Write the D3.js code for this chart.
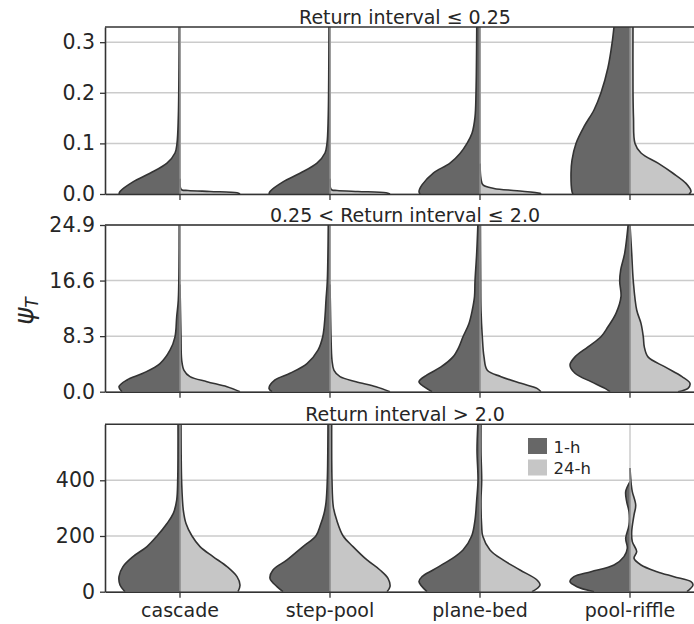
<!DOCTYPE html>
<html>
<head>
<meta charset="utf-8">
<script src="https://cdnjs.cloudflare.com/ajax/libs/d3/7.8.5/d3.min.js"></script>
<style>
  body { margin: 0; background: #fff; }
  svg text { font-family: "DejaVu Sans", sans-serif; fill: #262626; }
</style>
</head>
<body>
<div class="graph"></div>
<script>

// categories on the x-axis and the two series (left half / right half of each violin)
var categories = ["cascade", "step-pool", "plane-bed", "pool-riffle"];
var seriesNames = ["1-h", "24-h"];
var seriesColors = ["#676767", "#c6c6c6"];

// one panel per return-interval class
var panelTitles = ["Return interval \u2264 0.25", "0.25 < Return interval \u2264 2.0", "Return interval > 2.0"];
var panelMax = [0.33, 24.9, 601];
var panelTicks = [[0, 0.1, 0.2, 0.3], [0, 8.3, 16.6, 24.9], [0, 200, 400]];
var panelTickFormat = [".1f", ".1f", "d"];

// density profiles: [psi_T value, relative half width]
// one list per category, in the order of categories[]
var rare1h = [
  [[0, 61], [0.005, 60], [0.024, 47], [0.041, 30], [0.061, 13], [0.081, 5], [0.1, 3], [0.15, 1.7], [0.25, 1], [0.34, 0.8]],
  [[0, 61], [0.005, 60], [0.024, 47], [0.041, 30], [0.061, 13], [0.081, 5], [0.1, 3], [0.15, 1.8], [0.25, 1.2], [0.34, 1]],
  [[0, 60], [0.005, 61], [0.018, 58], [0.041, 47], [0.061, 30], [0.08, 20], [0.1, 13], [0.12, 8], [0.152, 5], [0.2, 4], [0.34, 3.2]],
  [[0, 57], [0.005, 58], [0.041, 59], [0.067, 58], [0.1, 54], [0.133, 46], [0.166, 36], [0.2, 29], [0.25, 22], [0.297, 18], [0.34, 15.5]]
];
var rare24h = [
  [[0, 60], [0.0026, 57], [0.005, 30], [0.007, 8], [0.008, 2], [0.012, 0.5], [0.03, 0]],
  [[0, 60], [0.0026, 56], [0.005, 28], [0.007, 7], [0.008, 2], [0.012, 0.5], [0.03, 0]],
  [[0, 61], [0.0013, 60], [0.0065, 37], [0.011, 14], [0.018, 3], [0.03, 1], [0.06, 0]],
  [[0, 59], [0.005, 61], [0.021, 56], [0.041, 43], [0.061, 28], [0.081, 11], [0.1, 5], [0.15, 3.5], [0.2, 3], [0.34, 3]]
];

var moderate1h = [
  [[0, 58], [0.75, 61], [1.75, 53], [2.75, 37], [4.2, 20], [6.2, 10], [8.2, 5], [11.2, 3.3], [13.7, 1.7], [18.7, 1], [25.5, 0.8]],
  [[0, 58], [0.5, 61], [1.75, 55], [2.75, 40], [4.2, 23], [6.2, 12], [8.2, 7.3], [11.2, 5], [13.7, 4], [16.5, 2.7], [25.5, 1.7]],
  [[0, 48], [0.75, 56], [1.5, 61], [2.5, 53], [3.7, 39], [5.2, 27], [6.7, 21], [8.2, 17], [10.2, 11], [12.2, 7.7], [14.2, 5.5], [16.5, 5], [20.7, 3.3], [25.5, 2]],
  [[0, 20], [0.5, 25], [1.5, 39], [2.75, 55], [4.0, 60], [5.2, 55], [6.7, 42], [8.2, 29], [9.7, 22], [11.7, 14], [14.2, 9], [16.5, 10.3], [18.2, 9.3], [20.7, 5.3], [25.5, 1.5]]
];
var moderate24h = [
  [[0, 60], [0.75, 47], [1.5, 27], [2.25, 10], [3.2, 4], [4.7, 1.7], [8.3, 1], [12, 0.5], [16, 0]],
  [[0, 60], [0.75, 46], [1.5, 26], [2.25, 10], [3.2, 4], [4.7, 2], [8.3, 1], [12, 0.5], [16, 0]],
  [[0, 61], [0.5, 57], [1.25, 41], [2.25, 21], [3.2, 7.3], [5.2, 4], [8.2, 2.3], [12.2, 1], [16.5, 0.7], [25.5, 0.4]],
  [[0, 48], [0.5, 58], [1.25, 60], [2.25, 52], [3.7, 35], [5.2, 18], [6.7, 14.3], [8.2, 13.3], [10.2, 11], [12.2, 6.7], [16.5, 3.3], [20.7, 1.7], [24.9, 0]]
];

var extreme1h = [
  [[0, 55], [24, 60], [54, 61], [90, 57], [126, 47], [162, 33], [200, 23], [245, 13], [281, 6.7], [329, 3.3], [400, 2.3], [610, 2]],
  [[0, 47], [18, 53], [48, 60], [78, 57], [114, 43], [162, 27], [201, 14], [240, 9.5], [280, 6], [320, 4], [400, 2.7], [610, 2]],
  [[0, 53], [36, 61], [54, 58], [78, 47], [114, 30], [150, 17], [200, 8.3], [257, 5], [329, 3.3], [400, 2], [509, 3], [610, 2]],
  [[0, 36], [18, 53], [36, 60], [54, 56], [72, 39], [96, 16], [126, 6], [156, 2.7], [192, 4.3], [239, 1], [287, 1], [323, 3.3], [359, 4.3], [395, 0]]
];
var extreme24h = [
  [[0, 58], [24, 60], [54, 57], [90, 47], [126, 33], [162, 20], [200, 12], [245, 6], [293, 3.3], [388, 1.7], [610, 1]],
  [[0, 57], [18, 60], [48, 58], [78, 50], [114, 37], [162, 23], [201, 13], [257, 6.7], [305, 3.3], [400, 2], [610, 1.7]],
  [[0, 52], [24, 60], [42, 57], [78, 40], [114, 23], [150, 10], [200, 2.7], [233, 1.7], [329, 1], [400, 1.7], [500, 1], [610, 1]],
  [[0, 57], [24, 63], [36, 61], [54, 44], [72, 27], [96, 11], [120, 4], [144, 6.7], [180, 2.3], [215, 1.7], [275, 4], [311, 5.7], [359, 2.3], [383, 1.3], [443, 0]]
];

var panelHalves = [[rare1h, rare24h], [moderate1h, moderate24h], [extreme1h, extreme24h]];

// screen is 694 x 624, the plot area runs a little past the right edge (as in the original)
var width = 694, height = 624;
var plotLeft = 105, plotRight = 705;
var panelBox = [
  {top: 27, bottom: 194},
  {top: 225, bottom: 391.7},
  {top: 424.3, bottom: 591.7}
];

var svg = d3.select(".graph").append("svg")
    .attr("width", width)
    .attr("height", height);

svg.append("rect").attr("width", width).attr("height", height).attr("fill", "#fff");
var defs = svg.append("defs");

// x is a band scale, one band per category, violins sit on the band centre
var x = d3.scaleBand().domain(categories).range([plotLeft, plotRight]).padding(0);
var halfWidth = d3.scaleLinear().domain([0, 75]).range([0, x.bandwidth() / 2]);
var curve = d3.curveCatmullRom.alpha(0.5);

function centre(c) { return x(c) + x.bandwidth() / 2; }

function drawPanel(i) {
    var box = panelBox[i];
    var y = d3.scaleLinear().domain([0, panelMax[i]]).range([box.bottom, box.top]);
    var g = svg.append("g");

    defs.append("clipPath").attr("id", "clip" + i)
      .append("rect")
        .attr("x", plotLeft).attr("y", box.top)
        .attr("width", plotRight - plotLeft).attr("height", box.bottom - box.top);

    // grid lines (horizontal at y ticks, vertical at category centres)
    g.selectAll(".hgrid").data(panelTicks[i]).enter().append("line")
        .attr("x1", plotLeft).attr("x2", plotRight)
        .attr("y1", function(d) { return y(d); }).attr("y2", function(d) { return y(d); })
        .attr("stroke", "#cbcbcb").attr("stroke-width", 1.5);
    g.selectAll(".vgrid").data(categories).enter().append("line")
        .attr("x1", centre).attr("x2", centre)
        .attr("y1", box.top).attr("y2", box.bottom)
        .attr("stroke", "#cbcbcb").attr("stroke-width", 1.5);

    var violins = g.append("g").attr("clip-path", "url(#clip" + i + ")");

    // each half violin: filled area + dark outline on its outer side
    panelHalves[i].forEach(function(profiles, s) {
        var side = s === 0 ? -1 : 1;
        profiles.forEach(function(pts, ci) {
            var cx = centre(categories[ci]);
            var area = d3.area().curve(curve)
                .y(function(d) { return y(d[0]); })
                .x0(cx)
                .x1(function(d) { return cx + side * halfWidth(d[1]); });
            var line = d3.line().curve(curve)
                .y(function(d) { return y(d[0]); })
                .x(function(d) { return cx + side * halfWidth(d[1]); });
            violins.append("path").attr("d", area(pts))
                .attr("fill", seriesColors[s]);
            violins.append("path").attr("d", line(pts))
                .attr("fill", "none").attr("stroke", "#333").attr("stroke-width", 1.6)
                .attr("stroke-linejoin", "round");
        });
    });

    // split line in the middle of each violin
    categories.forEach(function(c, ci) {
        var top = d3.max(panelHalves[i], function(profiles) {
            var pts = profiles[ci];
            return pts[pts.length - 1][0];
        });
        violins.append("line")
            .attr("x1", centre(c)).attr("x2", centre(c))
            .attr("y1", y(0)).attr("y2", y(top))
            .attr("stroke", "#8e8e8e").attr("stroke-width", 1.6);
    });

    // axes
    var yAxis = d3.axisLeft(y).tickValues(panelTicks[i])
        .tickFormat(d3.format(panelTickFormat[i]))
        .tickSize(5).tickSizeOuter(0).tickPadding(5);
    var gy = g.append("g").attr("transform", "translate(" + plotLeft + ",0)").call(yAxis);

    var xAxis = d3.axisBottom(x).tickSize(6).tickSizeOuter(0).tickPadding(6);
    if (i < 2) xAxis.tickFormat("");
    var gx = g.append("g").attr("transform", "translate(0," + box.bottom + ")").call(xAxis);

    g.append("line")
        .attr("x1", plotLeft).attr("x2", plotRight)
        .attr("y1", box.top).attr("y2", box.top)
        .attr("stroke", "#333").attr("stroke-width", 1.6);

    [gy, gx].forEach(function(ax) {
        ax.attr("font-family", null).attr("font-size", null);
        ax.select(".domain").attr("stroke", "#333").attr("stroke-width", 1.6);
        ax.selectAll(".tick line").attr("stroke", "#333").attr("stroke-width", 1.3);
    });
    gy.selectAll(".tick text").style("font-size", "20.5px").attr("fill", "#1e1e1e");
    gx.selectAll(".tick text").style("font-size", "19px").attr("fill", "#333");

    // panel title
    g.append("text")
        .attr("x", (plotLeft + plotRight) / 2)
        .attr("y", box.top - 3)
        .attr("text-anchor", "middle")
        .style("font-size", "19px")
        .attr("fill", "#333")
        .text(panelTitles[i]);
}

function drawLegend() {
    var lg = svg.append("g").attr("transform", "translate(528,438)");
    var items = lg.selectAll("g").data(seriesNames).enter().append("g")
        .attr("transform", function(d, k) { return "translate(0," + (k * 21.5) + ")"; });
    items.append("rect")
        .attr("width", 19).attr("height", 16)
        .attr("fill", function(d, k) { return seriesColors[k]; });
    items.append("text")
        .attr("x", 25.5).attr("y", 14.5)
        .style("font-size", "16.5px")
        .attr("fill", "#333")
        .text(function(d) { return d; });
}

function drawYLabel() {
    var t = svg.append("text")
        .attr("transform", "translate(33,311) rotate(-90)")
        .attr("text-anchor", "middle")
        .style("font-size", "26px");
    t.append("tspan").style("font-style", "italic").text("\u03c8");
    t.append("tspan").style("font-style", "italic").style("font-size", "17px")
        .attr("dy", 5).text("T");
}

[0, 1, 2].forEach(drawPanel);
drawLegend();
drawYLabel();

</script>
</body>
</html>
